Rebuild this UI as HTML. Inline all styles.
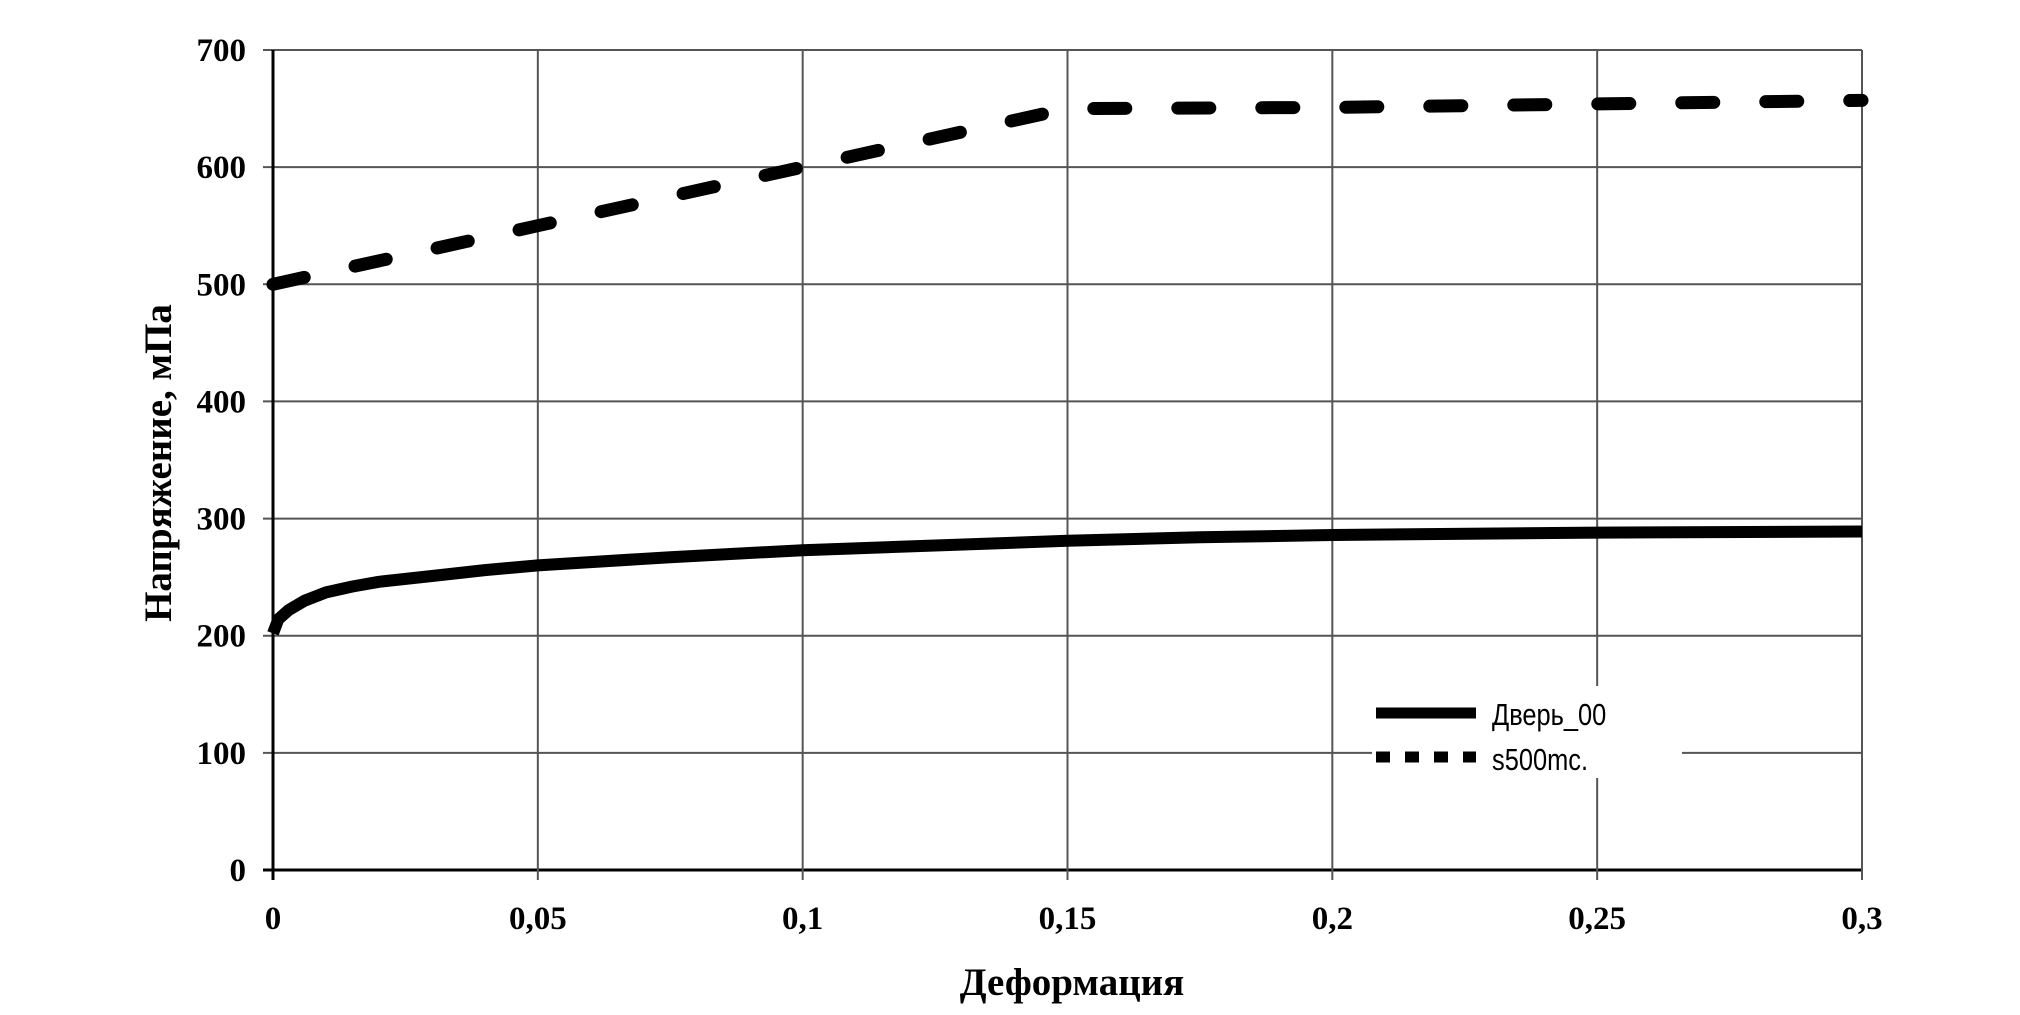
<!DOCTYPE html>
<html><head><meta charset="utf-8"><style>
html,body{margin:0;padding:0;background:#fff;}
svg{display:block;}
.tick{font-family:"Liberation Serif",serif;font-weight:bold;font-size:33px;fill:#000;}
.title{font-family:"Liberation Serif",serif;font-weight:bold;font-size:39px;fill:#000;}
.leg{font-family:"Liberation Sans Narrow","Liberation Sans",sans-serif;font-size:31px;fill:#000;}
</style></head><body>
<svg id="chart" width="2020" height="1015" viewBox="0 0 2020 1015">
<g id="grid"></g>
<g id="axes"></g>
<g id="series"></g>
<g id="legend"></g>
</svg>
<script>
const xTicks = [0, 0.05, 0.1, 0.15, 0.2, 0.25, 0.3];
const xTickLabels = ["0", "0,05", "0,1", "0,15", "0,2", "0,25", "0,3"];
const yTicks = [0, 100, 200, 300, 400, 500, 600, 700];
const yTickLabels = ["0", "100", "200", "300", "400", "500", "600", "700"];
const doorX = [0, 0.001, 0.003, 0.006, 0.01, 0.015, 0.02, 0.03, 0.04, 0.05, 0.075, 0.1, 0.125, 0.15, 0.175, 0.2, 0.25, 0.3];
const doorY = [202, 214, 222, 230, 237, 242, 246, 251, 256, 260, 267, 273, 277, 281, 284, 286, 288, 289];
const s500X = [0, 0.05, 0.1, 0.15, 0.2, 0.25, 0.3];
const s500Y = [500, 550, 600, 650, 651, 654, 657];

const NS = "http://www.w3.org/2000/svg";
const L = 273, R = 1862, T = 50, B = 870;
const xS = v => L + (v - 0) / 0.3 * (R - L);
const yS = v => B - v / 700 * (B - T);
function mk(tag, attrs, parent) {
  const e = document.createElementNS(NS, tag);
  for (const k in attrs) e.setAttribute(k, attrs[k]);
  parent.appendChild(e);
  return e;
}
const grid = document.getElementById('grid');
const axes = document.getElementById('axes');
const series = document.getElementById('series');
const legend = document.getElementById('legend');

yTicks.forEach((v, i) => {
  const y = yS(v);
  const g = mk('line', {x1: L - 10, x2: R, y1: y, y2: y, stroke: v === 0 ? '#000' : '#555', 'stroke-width': v === 0 ? 3 : 2}, grid);
  
  
  const t = mk('text', {x: 246, y: y + 11, 'text-anchor': 'end', class: 'tick'}, axes);
  t.textContent = yTickLabels[i];
  
  
});
xTicks.forEach((v, i) => {
  const x = xS(v);
  const g = mk('line', {x1: x, x2: x, y1: T, y2: B + 10, stroke: i === 0 ? '#000' : '#555', 'stroke-width': i === 0 ? 3 : 2}, grid);
  
  
  const t = mk('text', {x: x, y: 929, 'text-anchor': 'middle', class: 'tick'}, axes);
  t.textContent = xTickLabels[i];
  
  
});
const yt = mk('text', {x: 0, y: 0, 'text-anchor': 'middle', class: 'title', transform: 'translate(171,463) rotate(-90)'}, axes);
yt.textContent = 'Напряжение, мПа';


const xt = mk('text', {x: 1072, y: 995, 'text-anchor': 'middle', class: 'title'}, axes);
xt.textContent = 'Деформация';



function pts(xs, ys) { return xs.map((x, i) => xS(x).toFixed(1) + ',' + yS(ys[i]).toFixed(1)).join(' '); }
const p1 = mk('polyline', {points: pts(doorX, doorY), fill: 'none', stroke: '#000', 'stroke-width': 12, 'stroke-linejoin': 'round'}, series);


const p2 = mk('polyline', {points: pts(s500X, s500Y), fill: 'none', stroke: '#000', 'stroke-width': 13, 'stroke-linecap': 'round', 'stroke-dasharray': '32 52'}, series);



const lb = mk('rect', {x: 1372, y: 686, width: 310, height: 92, fill: '#fff'}, legend);


const l1 = mk('line', {x1: 1376, x2: 1476, y1: 713, y2: 713, stroke: '#000', 'stroke-width': 11}, legend);


const l2 = mk('line', {x1: 1376, x2: 1476, y1: 757, y2: 757, stroke: '#000', 'stroke-width': 11, 'stroke-dasharray': '14 15'}, legend);


const t1 = mk('text', {x: 1492, y: 725, class: 'leg', transform: 'translate(1492,0) scale(0.82,1) translate(-1492,0)'}, legend);
t1.textContent = 'Дверь_00';


const t2 = mk('text', {x: 1492, y: 770, class: 'leg', transform: 'translate(1492,0) scale(0.82,1) translate(-1492,0)'}, legend);
t2.textContent = 's500mc.';


</script>
</body></html>
